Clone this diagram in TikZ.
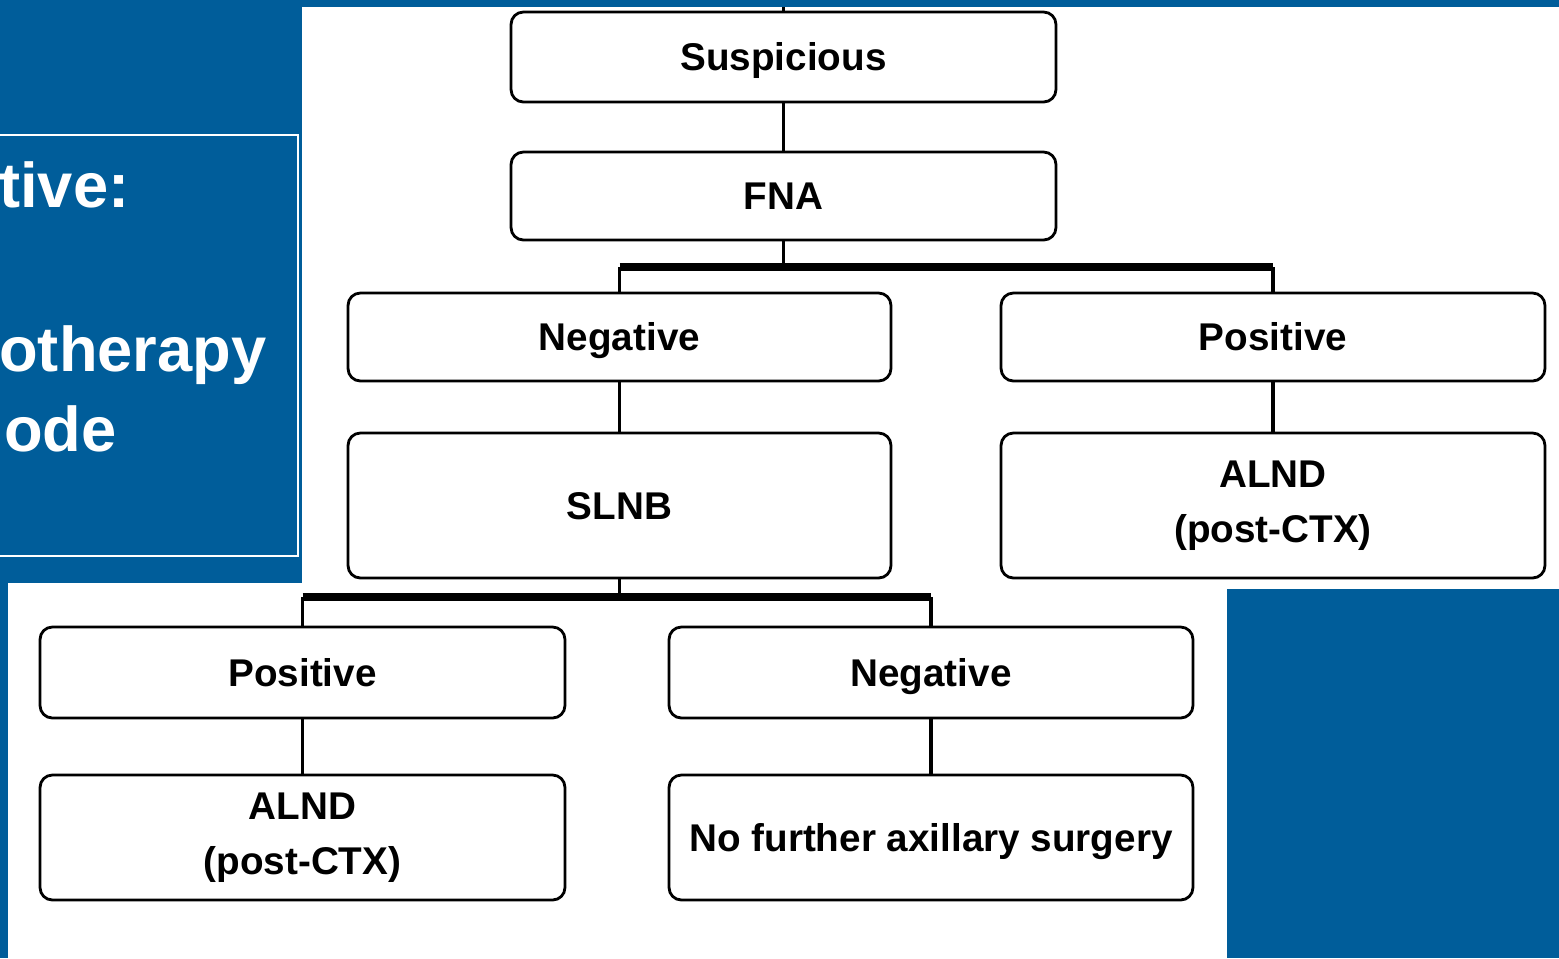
\documentclass[tikz,border=0pt]{standalone}
\usepackage{fontspec}
\setmainfont{Liberation Sans}
\usepackage{tikz}

\definecolor{slideblue}{RGB}{0,93,154}

\begin{document}
\begin{tikzpicture}[x=0.02cm, y=-0.02cm,
    flowbox/.style={draw=black, line width=1.6pt, rounded corners=7pt, fill=white,
        inner sep=0pt, align=center, font=\bfseries\fontsize{22}{31}\selectfont},
    onerow/.style={flowbox, text height=15.8pt, text depth=0pt},
    link/.style={draw=black, line width=2.2pt},
    bar/.style={draw=black, line width=4pt},
    panel/.style={text=white, anchor=base west, inner sep=0pt, font=\bfseries\fontsize{36}{42}\selectfont}]
    \useasboundingbox (0,0) rectangle (1559,958);
    % slide background
    \fill[slideblue] (0,0) rectangle (1559,958);
    \fill[white] (302,7) rectangle (1559,589);
    \fill[white] (8,583) rectangle (1227,958);
    % text panel on the left
    \draw[white, line width=0.6pt] (-2,135) rectangle (298,556);
    \node[panel] (tive) at (-1,207) {tive:};
    \node[panel] (othr) at (-1,371) {otherapy};
    \node[panel] (ode) at (4,451) {ode};
    % boxes
    \node[onerow, minimum width=10.9cm, minimum height=1.8cm] (susp) at (783.5,57) {Suspicious};
    \node[onerow, minimum width=10.9cm, minimum height=1.76cm] (fna) at (783.5,196) {FNA};
    \node[onerow, minimum width=10.86cm, minimum height=1.76cm] (neg) at (619.5,337) {Negative};
    \node[onerow, minimum width=10.88cm, minimum height=1.76cm] (pos) at (1273,337) {Positive};
    \node[onerow, minimum width=10.86cm, minimum height=2.9cm] (slnb) at (619.5,505.5) {SLNB};
    \node[flowbox, minimum width=10.88cm, minimum height=2.9cm] (alndA) at (1273,505.5) {ALND\\(post-CTX)};
    \node[onerow, minimum width=10.5cm, minimum height=1.82cm] (posB) at (302.5,672.5) {Positive};
    \node[onerow, minimum width=10.48cm, minimum height=1.82cm] (negB) at (931,672.5) {Negative};
    \node[flowbox, minimum width=10.5cm, minimum height=2.5cm] (alndB) at (302.5,837.5) {ALND\\(post-CTX)};
    \node[onerow, minimum width=10.48cm, minimum height=2.5cm] (nofur) at (931,837.5) {No further axillary surgery};
    % connectors
    \coordinate (top) at (783.5,7);
    \coordinate (j1) at (783.5,267);
    \coordinate (j2) at (619.5,597);
    \draw[link] (top) -- (susp);
    \draw[link] (susp) -- (fna);
    \draw[link] (fna) -- (j1);
    \draw[bar] (neg.north |- j1) -- (pos.north |- j1);
    \draw[link] (neg.north |- j1) -- (neg);
    \draw[link] (pos.north |- j1) -- (pos);
    \draw[link] (neg) -- (slnb);
    \draw[link] (pos) -- (alndA);
    \draw[link] (slnb) -- (j2);
    \draw[bar] (posB.north |- j2) -- (negB.north |- j2);
    \draw[link] (posB.north |- j2) -- (posB);
    \draw[link] (negB.north |- j2) -- (negB);
    \draw[link] (posB) -- (alndB);
    \draw[link] (negB) -- (nofur);
\end{tikzpicture}
\end{document}
